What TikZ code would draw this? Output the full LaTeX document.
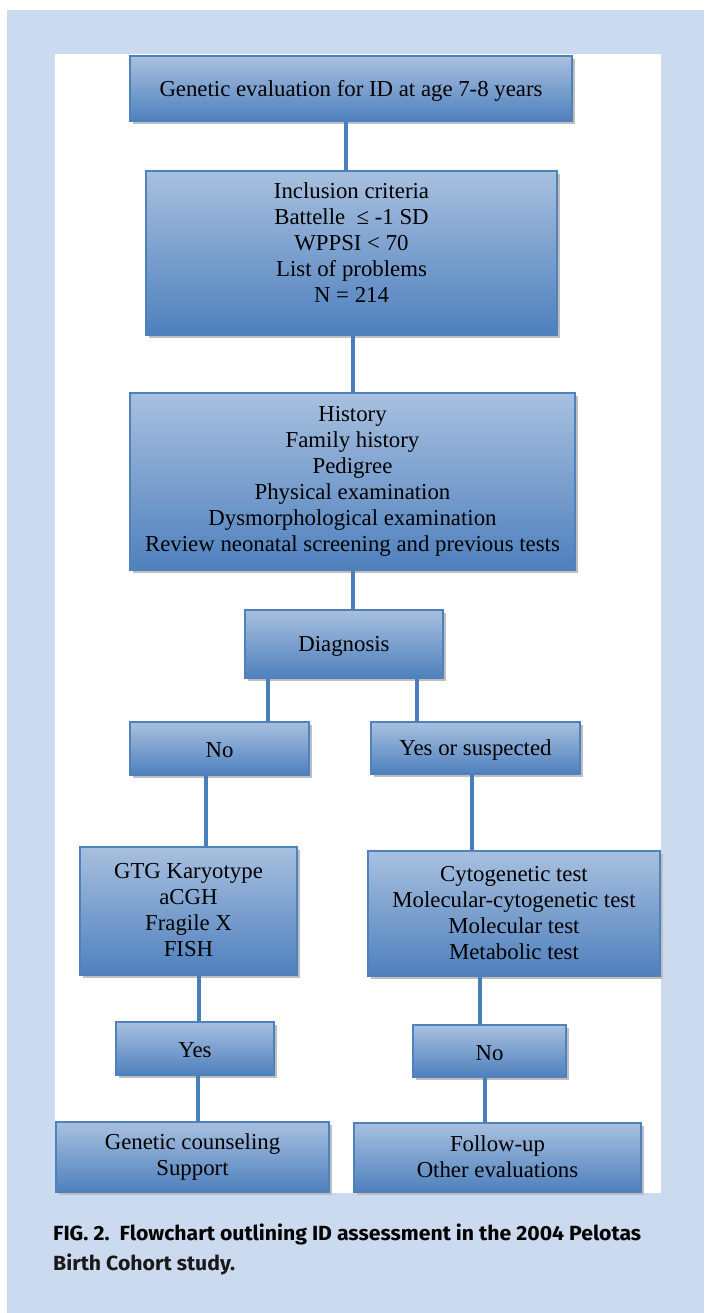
\documentclass[tikz,border=0pt]{standalone}
\usepackage{fontspec}
\setmainfont{Liberation Serif}
\newfontfamily\capfont{Fira Sans}
\usetikzlibrary{shadows}
\definecolor{bgblue}{RGB}{203,218,238}
\definecolor{boxtop}{RGB}{168,192,223}
\definecolor{boxbot}{RGB}{78,128,189}
\definecolor{boxedge}{RGB}{79,129,189}
\definecolor{connblue}{RGB}{74,126,187}
\definecolor{shadowgray}{RGB}{190,190,190}
\newsavebox\capbox
\newlength\capwd
\AtBeginDocument{%
  \sbox\capbox{\capfont\bfseries\fontsize{20.5}{24}\selectfont FIG. 2.\ \ Flowchart outlining ID assessment in the 2004 Pelotas}%
  \setlength\capwd{\wd\capbox}%
  \pgfmathsetmacro\capscale{588/\capwd}%
}
\tikzset{
 box/.style={draw=boxedge, line width=1.3pt, top color=boxtop, bottom color=boxbot,
   align=center, inner sep=0pt, font=\fontsize{22.8}{26}\selectfont,
   execute at begin node={\rule[-2pt]{0pt}{22.2pt}}, execute at end node={\rule[-2pt]{0pt}{22.2pt}},
   drop shadow={shadow xshift=3pt, shadow yshift=-3pt, fill=shadowgray, opacity=1}},
 conn/.style={draw=connblue, line width=4pt},
 captext/.style={anchor=base west, inner sep=0pt, text=black!90,
   font=\capfont\bfseries\fontsize{20.5}{24}\selectfont}
}
\begin{document}
\begin{tikzpicture}[x=1pt,y=-1pt]
\useasboundingbox (0,0) rectangle (704,1313);
\fill[white] (0,0) rectangle (704,1313);
\fill[bgblue] (7,10) rectangle (704,1313);
\fill[white] (55,54) rectangle (661,1193);

\node[box, minimum width=442pt, minimum height=65pt] (b1) at (351,88.5) {Genetic evaluation for ID at age 7-8 years};
\node[box, minimum width=411pt, minimum height=164pt] (b2) at (351.5,253) {Inclusion criteria\\Battelle\ \ ≤ -1 SD\\WPPSI < 70\\List of problems\\N = 214\\[-8pt]};
\node[box, minimum width=445pt, minimum height=177pt] (b3) at (352.5,481.5) {History\\Family history\\Pedigree\\Physical examination\\Dysmorphological examination\\Review neonatal screening and previous tests};
\node[box, minimum width=198pt, minimum height=68pt] (diag) at (344,644) {Diagnosis};
\node[box, minimum width=179pt, minimum height=53pt] (no1) at (219.5,748.5) {No};
\node[box, minimum width=209pt, minimum height=52pt] (yes1) at (475.5,748) {Yes or suspected};
\node[box, minimum width=217pt, minimum height=128pt] (gtg) at (188.5,911) {GTG Karyotype\\aCGH\\Fragile X\\FISH};
\node[box, minimum width=292pt, minimum height=125pt] (cyto) at (514,913.5) {Cytogenetic test\\Molecular-cytogenetic test\\Molecular test\\Metabolic test};
\node[box, minimum width=158pt, minimum height=53pt] (yes2) at (195,1048.5) {Yes};
\node[box, minimum width=153pt, minimum height=52pt] (no2) at (489.5,1051) {No};
\node[box, minimum width=273pt, minimum height=70pt] (gc) at (192.5,1157) {Genetic counseling\\Support};
\node[box, minimum width=287pt, minimum height=69pt] (fu) at (497.5,1157.5) {Follow-up\\Other evaluations};

\coordinate (x1) at (346,0);
\coordinate (x2) at (353,0);
\coordinate (x3) at (352.5,0);
\coordinate (x4) at (268,0);
\coordinate (x5) at (416.5,0);
\coordinate (x6) at (206,0);
\coordinate (x7) at (472,0);
\coordinate (x8) at (199,0);
\coordinate (x9) at (479.5,0);
\coordinate (x10) at (198,0);
\coordinate (x11) at (485,0);

\draw[conn] (b1.south -| x1) -- (b2.north -| x1);
\draw[conn] (b2.south -| x2) -- (b3.north -| x2);
\draw[conn] (b3.south -| x3) -- (diag.north -| x3);
\draw[conn] (diag.south -| x4) -- (no1.north -| x4);
\draw[conn] (diag.south -| x5) -- (yes1.north -| x5);
\draw[conn] (no1.south -| x6) -- (gtg.north -| x6);
\draw[conn] (yes1.south -| x7) -- (cyto.north -| x7);
\draw[conn] (gtg.south -| x8) -- (yes2.north -| x8);
\draw[conn] (cyto.south -| x9) -- (no2.north -| x9);
\draw[conn] (yes2.south -| x10) -- (gc.north -| x10);
\draw[conn] (no2.south -| x11) -- (fu.north -| x11);

\node[captext] (cap1) at (53,1240) {\scalebox{\capscale}[1]{\usebox\capbox}};
\node[captext] (cap2) at (53,1270) {\scalebox{\capscale}[1]{Birth Cohort study.}};
\end{tikzpicture}
\end{document}
